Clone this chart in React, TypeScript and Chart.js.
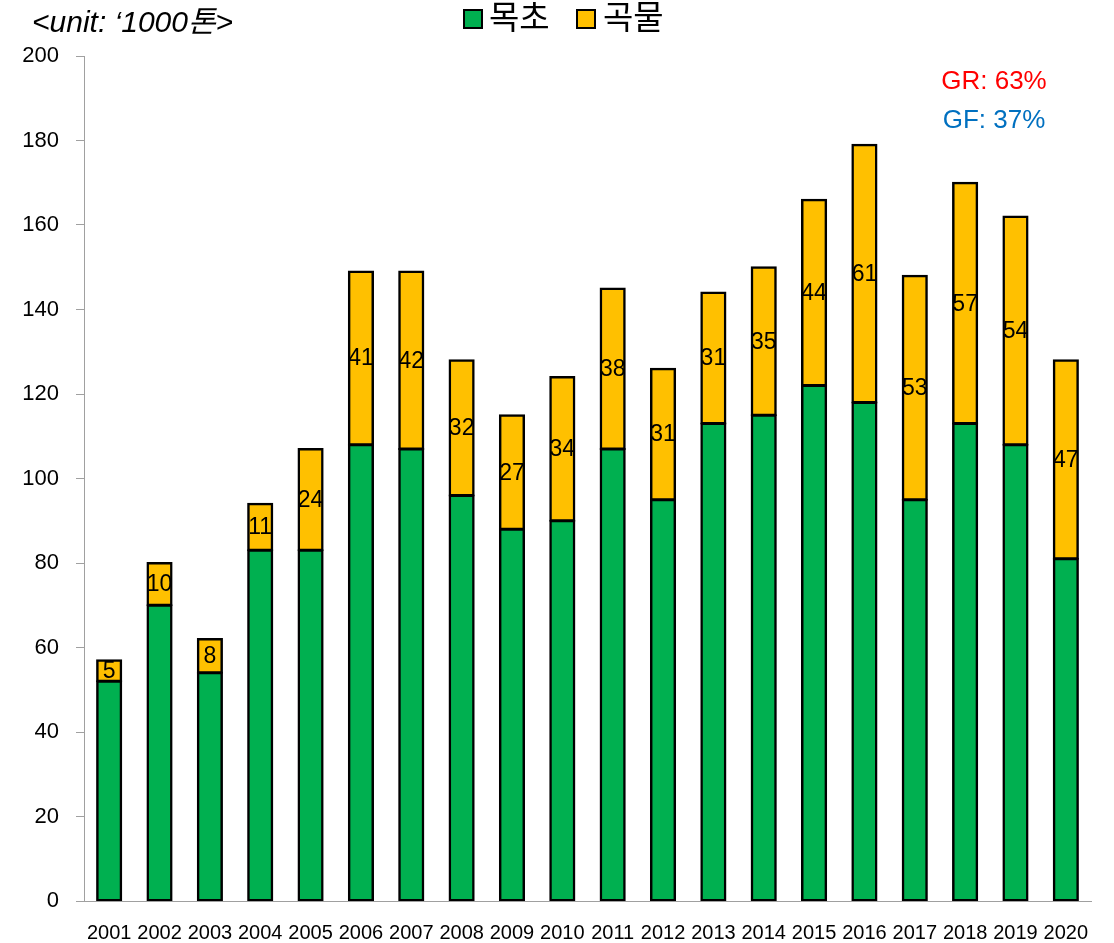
import React, { useEffect, useRef } from "react";
import { Chart, registerables } from "chart.js";

Chart.register(...registerables);

const years = ["2001","2002","2003","2004","2005","2006","2007","2008","2009","2010","2011","2012","2013","2014","2015","2016","2017","2018","2019","2020"];
const forage = [52,70,54,83,83,108,107,96,88,90,107,95,113,115,122,118,95,113,108,81];
const grain = [5,10,8,11,24,41,42,32,27,34,38,31,31,35,44,61,53,57,54,47];
const yTicks = [0,20,40,60,80,100,120,140,160,180,200];
const seriesNames = ["목초", "곡물"];
const seriesColors = ["#00B050", "#FFC000"];
const unitLabel = "<unit: \u20181000톤>";
const notes = [
  { text: "GR: 63%", color: "#FF0000" },
  { text: "GF: 37%", color: "#0070C0" },
];

const FONT = "'Liberation Sans', 'Noto Sans CJK KR', sans-serif";

const overlay = {
  id: "overlay",
  afterDatasetsDraw(chart: any) {
    const ctx = chart.ctx;
    ctx.save();
    // grain labels
    const meta = chart.getDatasetMeta(1);
    ctx.fillStyle = "#000";
    ctx.font = `23px ${FONT}`;
    ctx.textAlign = "center";
    ctx.textBaseline = "middle";
    meta.data.forEach((el: any, i: number) => {
      const p = el.getProps(["x", "y", "base"], true);
      ctx.fillText(String(grain[i]), p.x, (p.y + p.base) / 2 + 1);
    });
    // unit label
    ctx.font = `italic 30px ${FONT}`;
    ctx.textAlign = "left";
    ctx.fillText(unitLabel, 32, 24);
    // legend
    ctx.font = `33px ${FONT}`;
    const items = [
      { x: 464, tx: 489 },
      { x: 577, tx: 603 },
    ];
    items.forEach((it, i) => {
      ctx.fillStyle = seriesColors[i];
      ctx.fillRect(it.x, 10, 18, 18);
      ctx.strokeStyle = "#000";
      ctx.lineWidth = 2;
      ctx.strokeRect(it.x, 10, 18, 18);
      ctx.fillStyle = "#000";
      ctx.fillText(seriesNames[i], it.tx, 20);
    });
    // notes
    ctx.font = `26px ${FONT}`;
    ctx.textAlign = "center";
    notes.forEach((n, i) => {
      ctx.fillStyle = n.color;
      ctx.fillText(n.text, 994, 82 + i * 39);
    });
    ctx.restore();
  },
};

export default function App() {
  const ref = useRef<HTMLCanvasElement>(null);
  useEffect(() => {
    if (!ref.current) return;
    const chart = new Chart(ref.current, {
      type: "bar",
      data: {
        labels: years,
        datasets: [
          {
            label: seriesNames[0],
            data: forage,
            backgroundColor: seriesColors[0],
            borderColor: "#000",
            borderWidth: 2.5,
            borderSkipped: false,
            inflateAmount: 1,
          },
          {
            label: seriesNames[1],
            data: grain,
            backgroundColor: seriesColors[1],
            borderColor: "#000",
            borderWidth: 2.5,
            borderSkipped: false,
            inflateAmount: 1,
          },
        ],
      },
      options: {
        animation: false,
        responsive: false,
        layout: { padding: { top: 56, right: 23, left: 0, bottom: 0 } },
        plugins: { legend: { display: false }, tooltip: { enabled: false } },
        datasets: { bar: { barPercentage: 0.48, categoryPercentage: 1 } },
        scales: {
          x: {
            stacked: true,
            grid: { display: false },
            border: { display: true, color: "#A0A0A0", width: 1 },
            ticks: {
              color: "#000",
              font: { family: FONT, size: 20 },
              maxRotation: 0,
              autoSkip: false,
              padding: 12,
            },
            afterFit: (s: any) => { s.height = 42; },
          },
          y: {
            stacked: true,
            min: 0,
            max: 200,
            afterBuildTicks: (s: any) => { s.ticks = yTicks.map((v) => ({ value: v })); },
            grid: { drawOnChartArea: false, drawTicks: true, tickLength: 8, color: "#A0A0A0" },
            border: { display: true, color: "#A0A0A0", width: 1 },
            ticks: { color: "#000", font: { family: FONT, size: 22 }, padding: 17 },
            afterFit: (s: any) => { s.width = 84; },
          },
        },
      },
      plugins: [overlay],
    } as any);
    return () => chart.destroy();
  }, []);
  return (
    <div style={{ position: "fixed", left: 0, top: 0, width: 1114, height: 943, background: "#fff" }}>
      <canvas ref={ref} width={1114} height={943} style={{ width: 1114, height: 943 }} />
    </div>
  );
}
